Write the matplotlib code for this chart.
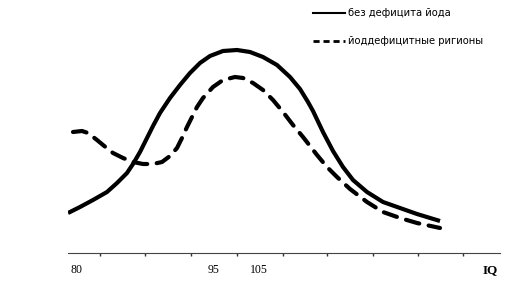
import matplotlib
matplotlib.use("Agg")
import matplotlib.pyplot as plt
from matplotlib.lines import Line2D

# кривые (условные единицы по горизонтали, высота над осью)
x_norm = [68, 80, 93, 107, 117, 127, 133, 140, 147, 153, 160, 170, 180, 190, 200,
          210, 223, 237, 250, 263, 277, 290, 300, 308, 313, 323, 333, 343, 353,
          367, 383, 400, 417, 440]
y_norm = [40, 46, 53, 61, 70, 80, 89, 101, 115, 127, 140, 155, 168, 180, 190,
          197, 202, 203, 201, 196, 188, 176, 164, 151, 142, 121, 102, 86, 73,
          61, 51, 45, 39, 32]

x_def = [73, 82, 88, 97, 103, 113, 123, 133, 143, 153, 162, 170, 177, 182, 187,
         192, 197, 203, 213, 223, 235, 243, 253, 263, 273, 283, 293, 303, 317,
         327, 337, 350, 367, 383, 400, 417, 440]
y_def = [121, 122, 120, 113, 108, 100, 95, 91, 89, 89, 91, 97, 105, 115, 126,
         136, 146, 155, 166, 173, 176, 175, 170, 163, 153, 141, 128, 116, 98,
         86, 76, 64, 51, 41, 35, 30, 25]

tick_marks = [100, 145, 191, 237, 283, 327, 373, 418, 463]
label_pos = [76, 214, 259, 490]
label_txt = ["80", "95", "105", "IQ"]

legend_labels = ["без дефицита йода", "йоддефицитные ригионы"]

fig = plt.figure(figsize=(5.08, 2.86), dpi=100)
ax = fig.add_axes([68 / 508, 33 / 286, 432 / 508, 253 / 286])
ax.set_xlim(68, 500)
ax.set_ylim(0, 253)

ax.plot(x_norm, y_norm, color="black", lw=3.0, solid_capstyle="butt", solid_joinstyle="round")
ax.plot(x_def, y_def, color="black", lw=3.0, dashes=(3.3, 2.3),
        dash_capstyle="round", dash_joinstyle="round")

for s in ["top", "left", "right"]:
    ax.spines[s].set_visible(False)
ax.spines["bottom"].set_color("#444444")
ax.spines["bottom"].set_linewidth(0.8)
ax.set_yticks([])

ax.set_xticks(tick_marks, minor=True)
ax.tick_params(axis="x", which="minor", length=2.5, width=1, color="#333333", direction="out")
ax.set_xticks(label_pos)
ax.set_xticklabels(label_txt, family="Liberation Serif", fontsize=8.5)
ax.get_xticklabels()[-1].set_fontweight("bold")
ax.get_xticklabels()[-1].set_fontsize(9.5)
ax.tick_params(axis="x", which="major", length=0, pad=8)

handles = [Line2D([], [], color="black", lw=1.5),
           Line2D([], [], color="black", lw=2.0, dashes=(2.2, 1.4))]
fig.legend(handles, legend_labels, loc="upper left", bbox_to_anchor=(306 / 508, 0.995),
           frameon=False, fontsize=7.2, handlelength=3.2, handletextpad=0.3,
           labelspacing=1.8, borderaxespad=0.3)

fig.savefig("out.png", dpi=100, facecolor="white")
